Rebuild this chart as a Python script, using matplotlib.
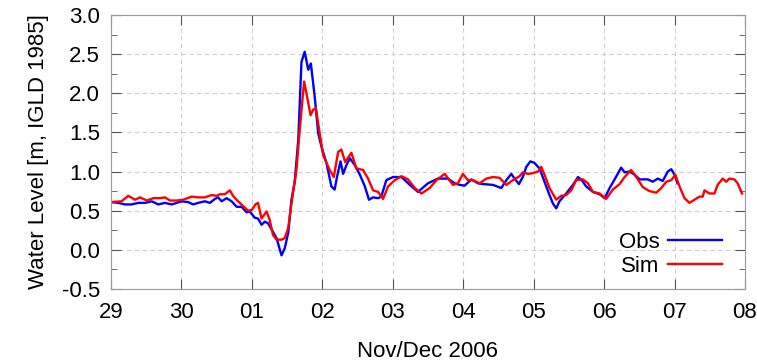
import numpy as np
import matplotlib.pyplot as plt
from matplotlib.ticker import MultipleLocator

plt.rcParams['font.family'] = ['Liberation Sans', 'DejaVu Sans']

# hours since 29 Nov 2006 00:00 and water level [m, IGLD 1985]
obs_hours = [0, 2.5, 4.8, 7, 9.3, 11.6, 13.9, 16.1, 18.4, 20.7, 22.4, 24.1, 26.3, 28, 29.7,
             32.0, 33.7, 35.4, 36.5, 37.7, 39.4, 41.1, 42.8, 44.5, 46.2, 47.3, 49, 50.1, 51.3,
             52.4, 53.5, 55.2, 56.4, 58.1, 59.2, 60.4, 61.5, 62.6, 63.8, 64.9, 66, 67.2, 68.1,
             69.4, 70.6, 71.7, 73.4, 75.1, 76.2, 77, 78.2, 79.1, 80.2, 81.4, 83.1, 84.8, 86.5,
             87.9, 89.3, 91, 92.1, 93.8, 96.1, 99, 101.8, 104.6, 108, 111.4, 114.8, 117.1,
             118.8, 120.5, 122.8, 125, 126.7, 130.1, 133.0, 134.7, 136.4, 137.5, 139.0, 140.3,
             141.5, 142.9, 144.3, 146, 147.7, 149.4, 150.6, 151.7, 152.8, 155.1, 157.4, 159.1,
             160.2, 161.9, 164.2, 166.5, 168.2, 169.9, 171.6, 173.8, 175, 176.7, 178.4, 180.1,
             182.9, 184.6, 186.3, 188.0, 189.7, 190.9, 192, 193.0]
obs_level = [0.61, 0.60, 0.58, 0.58, 0.60, 0.60, 0.62, 0.58, 0.60, 0.58, 0.60, 0.62, 0.61, 0.58, 0.60,
             0.62, 0.60, 0.65, 0.67, 0.62, 0.66, 0.62, 0.55, 0.55, 0.48, 0.49, 0.41, 0.40, 0.32,
             0.36, 0.34, 0.23, 0.15, -0.07, 0.02, 0.22, 0.64, 0.87, 1.40, 2.40, 2.53, 2.30, 2.38,
             1.96, 1.49, 1.32, 1.11, 0.81, 0.77, 0.93, 1.13, 0.97, 1.08, 1.17, 1.08, 0.96, 0.81,
             0.64, 0.67, 0.66, 0.68, 0.89, 0.93, 0.93, 0.83, 0.74, 0.85, 0.91, 0.91, 0.85,
             0.83, 0.82, 0.90, 0.85, 0.84, 0.83, 0.79, 0.89, 0.97, 0.91, 0.84, 0.93,
             1.06, 1.13, 1.11, 1.04, 0.87, 0.70, 0.59, 0.53, 0.62, 0.72, 0.83, 0.93,
             0.90, 0.81, 0.74, 0.71, 0.66, 0.79, 0.90, 1.05, 0.99, 1.00, 0.96, 0.90,
             0.90, 0.87, 0.91, 0.88, 1.00, 1.03, 0.96, 0.85]

sim_hours = [0, 3.6, 5.9, 8.2, 9.9, 12.2, 14.4, 16.7, 18.4, 20.1, 22.4, 24.6, 27.5, 29.7, 32.0,
             34.3, 36, 37.1, 38.8, 40.5, 41.6, 43.3, 45, 46.7, 48.0, 49.2, 50.1, 51.3, 53.0,
             54.1, 55.2, 56.4, 58.1, 59.2, 60.4, 61.5, 63.2, 64.3, 65.8, 66.8, 68, 68.9, 69.8,
             71.1, 72.3, 74.5, 75.9, 77.4, 78.5, 79.8, 81.9, 83.6, 85.9, 87.6, 89.3, 91, 92.7,
             94.4, 96.7, 99, 101.2, 103.5, 105.8, 108.6, 110.9, 113.7, 116.5, 118.2, 119.9,
             121.6, 123.3, 125.6, 127.9, 130.1, 132.4, 134.7, 136.9, 139.2, 140.3, 142.1, 143.8,
             145.5, 146.6, 147.7, 149.4, 151.7, 153.4, 155.1, 156.8, 158.5, 160.8, 162.5, 164.2,
             166.5, 168.7, 171, 173.3, 175, 177.2, 179, 181.2, 183.5, 185.8, 187.5, 189.2,
             190.9, 192.3, 193.7, 195.4, 197.1, 198.8, 200.5, 201.6, 202.2, 203.9, 205.6, 206.7,
             208.4, 209.6, 210.7, 212.4, 213.5, 215.0]
sim_level = [0.61, 0.62, 0.69, 0.64, 0.67, 0.63, 0.66, 0.66, 0.67, 0.63, 0.63, 0.64, 0.68, 0.67, 0.67,
             0.70, 0.69, 0.71, 0.71, 0.76, 0.69, 0.62, 0.56, 0.50, 0.51, 0.58, 0.60, 0.40, 0.49,
             0.38, 0.19, 0.13, 0.13, 0.15, 0.28, 0.60, 1.02, 1.53, 2.15, 1.96, 1.72, 1.79, 1.81,
             1.49, 1.21, 1.02, 0.93, 1.25, 1.28, 1.12, 1.24, 1.04, 1.02, 0.91, 0.76, 0.74, 0.65,
             0.81, 0.89, 0.94, 0.90, 0.79, 0.72, 0.79, 0.89, 0.97, 0.83, 0.85, 0.97,
             0.89, 0.89, 0.85, 0.91, 0.93, 0.92, 0.83, 0.89, 0.94, 0.99, 0.97, 0.98,
             1.00, 1.06, 0.96, 0.79, 0.64, 0.69, 0.70, 0.76, 0.89, 0.90, 0.85, 0.74,
             0.72, 0.65, 0.77, 0.84, 0.93, 1.02, 0.93, 0.80, 0.75, 0.73, 0.79, 0.87,
             0.89, 0.96, 0.81, 0.66, 0.60, 0.64, 0.68, 0.68, 0.76, 0.72, 0.72, 0.83,
             0.91, 0.87, 0.91, 0.90, 0.85, 0.72]

day_labels = ['29', '30', '01', '02', '03', '04', '05', '06', '07', '08']

fig = plt.figure(figsize=(7.57, 3.64), dpi=100)
ax = fig.add_axes([0.1466, 0.206, 0.8375, 0.753])

ax.plot(np.array(obs_hours) / 24, obs_level, color='#0000ff', lw=1.7, label='Obs')
ax.plot(np.array(sim_hours) / 24, sim_level, color='#ff0000', lw=1.7, label='Sim')

ax.set_xlim(0, 9)
ax.set_ylim(-0.5, 3.0)
ax.set_xticks(range(len(day_labels)))
ax.set_xticklabels(day_labels)
ax.yaxis.set_major_locator(MultipleLocator(0.5))
ax.yaxis.set_minor_locator(MultipleLocator(0.25))
ax.yaxis.set_major_formatter(plt.FormatStrFormatter('%.1f'))

ax.grid(True, which='major', color='#d0d0d0', linestyle=(0, (4, 3)), lw=0.8)
for s in ax.spines.values():
    s.set_color('#999999')
ax.tick_params(which='both', direction='in', top=True, right=True, colors='#555555',
               labelcolor='black', labelsize=16)
ax.tick_params(axis='x', pad=9)
ax.tick_params(axis='y', pad=8)
ax.tick_params(which='major', length=7)
ax.tick_params(which='minor', length=4)

ax.set_xlabel('Nov/Dec 2006', fontsize=16, labelpad=13)
ax.set_ylabel('Water Level [m, IGLD 1985]', fontsize=16, labelpad=9)

ax.legend(loc='lower right', frameon=False, markerfirst=False, fontsize=16,
          handlelength=2.4, handletextpad=0.4, labelspacing=0.15,
          bbox_to_anchor=(0.995, -0.03))

fig.savefig('out.png', dpi=100)
